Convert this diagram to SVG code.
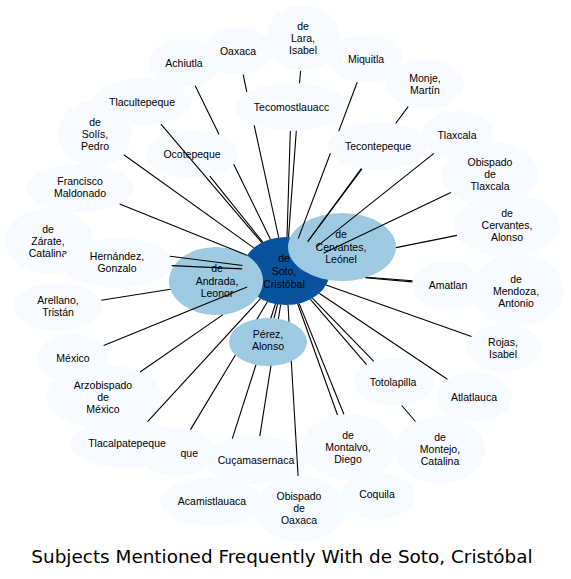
<svg xmlns="http://www.w3.org/2000/svg" width="571" height="579" viewBox="0 0 571 579">
<style>
.lt{fill:#f7fbff}
.md{fill:#9ecae1}
.dk{fill:#08519c}
text{font-family:"Liberation Sans",Arial,sans-serif;font-size:10.5px;fill:#000;text-anchor:middle}
.title{font-family:"DejaVu Sans",sans-serif;font-size:18.4px}
#edges path{fill:none;stroke:#000;stroke-width:1.1}
</style>
<rect width="571" height="579" fill="#fff"/>
<g id="nodes-light">
<g id="n-lara"><ellipse class="lt" cx="303" cy="38" rx="37" ry="33"/><text x="303" y="29.5">de</text><text x="303" y="41.5">Lara,</text><text x="303" y="53.5">Isabel</text></g>
<g id="n-oaxaca"><ellipse class="lt" cx="238" cy="51" rx="35" ry="24"/><text x="238" y="54.5">Oaxaca</text></g>
<g id="n-achiutla"><ellipse class="lt" cx="184" cy="63" rx="36" ry="24"/><text x="184" y="66.5">Achiutla</text></g>
<g id="n-miquitla"><ellipse class="lt" cx="366" cy="59" rx="37" ry="24"/><text x="366" y="62.5">Miquitla</text></g>
<g id="n-monje"><ellipse class="lt" cx="425" cy="84" rx="39" ry="25"/><text x="425" y="81.5">Monje,</text><text x="425" y="93.5">Martín</text></g>
<g id="n-tecomostlauacc"><ellipse class="lt" cx="291.5" cy="107" rx="56.5" ry="24"/><text x="291.5" y="110.5">Tecomostlauacc</text></g>
<g id="n-tlacultepeque"><ellipse class="lt" cx="142" cy="102" rx="50" ry="24"/><text x="142" y="105.5">Tlacultepeque</text></g>
<g id="n-solis"><ellipse class="lt" cx="95" cy="134" rx="37" ry="33"/><text x="95" y="125.5">de</text><text x="95" y="137.5">Solís,</text><text x="95" y="149.5">Pedro</text></g>
<g id="n-ocotepeque"><ellipse class="lt" cx="192" cy="154" rx="46" ry="24"/><text x="192" y="157.5">Ocotepeque</text></g>
<g id="n-tecontepeque"><ellipse class="lt" cx="378" cy="146" rx="50" ry="24"/><text x="378" y="149.5">Tecontepeque</text></g>
<g id="n-tlaxcala"><ellipse class="lt" cx="457" cy="135" rx="36" ry="24"/><text x="457" y="138.5">Tlaxcala</text></g>
<g id="n-obtlaxcala"><ellipse class="lt" cx="490" cy="174" rx="48" ry="32"/><text x="490" y="166">Obispado</text><text x="490" y="178">de</text><text x="490" y="190">Tlaxcala</text></g>
<g id="n-maldonado"><ellipse class="lt" cx="80" cy="188" rx="53" ry="24"/><text x="80" y="185">Francisco</text><text x="80" y="197">Maldonado</text></g>
<g id="n-cervalonso"><ellipse class="lt" cx="507" cy="225" rx="53" ry="32"/><text x="507" y="216.5">de</text><text x="507" y="228.5">Cervantes,</text><text x="507" y="240.5">Alonso</text></g>
<g id="n-zarate"><ellipse class="lt" cx="49" cy="241" rx="44" ry="33"/><text x="48" y="232.5">de</text><text x="48" y="244.5">Zárate,</text><text x="48" y="256.5">Catalina</text></g>
<g id="n-hernandez"><ellipse class="lt" cx="117" cy="263" rx="55" ry="25"/><text x="117" y="260">Hernández,</text><text x="117" y="272">Gonzalo</text></g>
<g id="n-amatlan"><ellipse class="lt" cx="448" cy="285" rx="36" ry="24"/><text x="448" y="288.5">Amatlan</text></g>
<g id="n-mendoza"><ellipse class="lt" cx="517" cy="290" rx="47" ry="36"/><text x="516" y="282.5">de</text><text x="516" y="294.5">Mendoza,</text><text x="516" y="306.5">Antonio</text></g>
<g id="n-arellano"><ellipse class="lt" cx="58" cy="307" rx="45" ry="24"/><text x="58" y="303.5">Arellano,</text><text x="58" y="315.5">Tristán</text></g>
<g id="n-rojas"><ellipse class="lt" cx="504" cy="348" rx="37" ry="24"/><text x="503" y="345.5">Rojas,</text><text x="503" y="357.5">Isabel</text></g>
<g id="n-arzobispado"><ellipse class="lt" cx="104" cy="397" rx="58" ry="32"/><text x="103" y="388.5">Arzobispado</text><text x="103" y="400.5">de</text><text x="103" y="412.5">México</text></g>
<g id="n-mexico"><ellipse class="lt" cx="73" cy="358" rx="36" ry="24"/><text x="73" y="361.5">México</text></g>
<g id="n-totolapilla"><ellipse class="lt" cx="394" cy="382" rx="40" ry="24"/><text x="393" y="385.5">Totolapilla</text></g>
<g id="n-atlatlauca"><ellipse class="lt" cx="474" cy="397" rx="38" ry="25"/><text x="474" y="400.5">Atlatlauca</text></g>
<g id="n-que"><ellipse class="lt" cx="177" cy="452" rx="38" ry="24"/><text x="198" y="456.5" style="text-anchor:end">que</text></g>
<g id="n-tlacalpatepeque"><ellipse class="lt" cx="127" cy="444" rx="57" ry="24"/><text x="127" y="446.5">Tlacalpatepeque</text></g>
<g id="n-acamistlauaca"><ellipse class="lt" cx="212" cy="502" rx="52" ry="24"/><text x="212" y="505">Acamistlauaca</text></g>
<g id="n-cucamasernaca"><ellipse class="lt" cx="256" cy="460" rx="52" ry="24"/><text x="256" y="463.5">Cuçamasernaca</text></g>
<g id="n-oboaxaca"><ellipse class="lt" cx="300" cy="509" rx="46" ry="33"/><text x="299" y="500">Obispado</text><text x="299" y="512">de</text><text x="299" y="524">Oaxaca</text></g>
<g id="n-coquila"><ellipse class="lt" cx="377" cy="496" rx="37" ry="24"/><text x="377" y="497.5">Coquila</text></g>
<g id="n-montalvo"><ellipse class="lt" cx="349" cy="447" rx="47" ry="33"/><text x="348" y="438.5">de</text><text x="348" y="450.5">Montalvo,</text><text x="348" y="462.5">Diego</text></g>
<g id="n-montejo"><ellipse class="lt" cx="440" cy="450" rx="45" ry="34"/><text x="440" y="440.5">de</text><text x="440" y="452.5">Montejo,</text><text x="440" y="464.5">Catalina</text></g>
</g>
<g id="n-soto"><ellipse class="dk" cx="286" cy="271" rx="44" ry="34"/><text x="284" y="261.5">de</text><text x="284" y="274.5">Soto,</text><text x="284" y="287.5">Cristóbal</text></g>
<g id="n-andrada"><ellipse class="md" cx="216" cy="281" rx="47" ry="34"/><text x="217" y="271.5">de</text><text x="217" y="284.5">Andrada,</text><text x="217" y="297">Leonor</text></g>
<g id="n-cervleonel"><ellipse class="md" cx="342" cy="247" rx="54" ry="34"/><text x="341" y="237.5">de</text><text x="341" y="250.5">Cervantes,</text><text x="341" y="263">Leónel</text></g>
<g id="edges">
<path d="M300.6,70.9 L299.5,83.3 M296.3,130.7 L288.5,237.1"/>
<path d="M290.3,131 L287,237"/>
<path d="M243.2,74.7 L246.8,91.8 M254.2,125.3 L278.7,237.5"/>
<path d="M195.2,85.8 L219.1,134.6 M233.7,164.3 L270.4,239.2"/>
<path d="M209.8,176.1 L262.8,242.1"/>
<path d="M160.9,124.2 L261.8,242.6"/>
<path d="M123.8,154.7 L253.8,247.9"/>
<path d="M119.6,204 L247,255.3"/>
<path d="M170,256.3 L242.6,265.5"/>
<path d="M171.7,265.6 L242.1,268.9"/>
<path d="M101.2,300.2 L170.5,289.3"/>
<path d="M103.7,345.5 L247.1,286.9"/>
<path d="M140.1,372 L223,314.6"/>
<path d="M147.6,421.6 L260.5,298.7"/>
<path d="M190.5,429.6 L267.4,301.8"/>
<path d="M259.8,436.1 L280.6,304.8"/>
<path d="M232.3,438.6 L275.4,304"/>
<path d="M298.1,476 L288,305"/>
<path d="M337.5,415 L297.7,303.8"/>
<path d="M343.9,414.2 L299.1,303.4"/>
<path d="M415.5,421.5 L401.7,405.5 M366.6,364.6 L310.4,299.3"/>
<path d="M373.8,361.3 L312.4,298.2"/>
<path d="M447.4,379.2 L319.2,293.3"/>
<path d="M471.5,336.5 L326,285.1"/>
<path d="M412.3,281.9 L365.1,277.8"/>
<path d="M412.5,280.8 L366.7,277.3"/>
<path d="M457,235.4 L396,247.6"/>
<path d="M450.9,192.6 L323.5,253.2"/>
<path d="M433.9,153.4 L316.7,246.6"/>
<path d="M361.3,168.6 L307.7,241.5"/>
<path d="M408.2,106.6 L395.6,123.5 M361.9,168.9 L307.9,241.5"/>
<path d="M357.2,82.3 L338.8,131.1 M330.4,153.3 L298.3,238.4"/>
<path d="M274,318.3 L277.5,304.4"/>
</g>
<g id="n-perez"><ellipse class="md" cx="268" cy="342" rx="39" ry="24"/><text x="268" y="337.5">Pérez,</text><text x="268" y="349.5">Alonso</text></g>
<text class="title" x="282" y="562.5">Subjects Mentioned Frequently With de Soto, Cristóbal</text>
</svg>
